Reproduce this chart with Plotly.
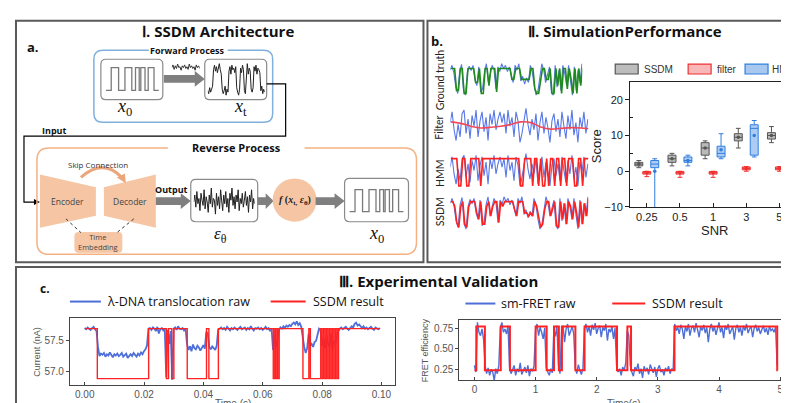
import plotly.graph_objects as go

W, H = 789, 403
def px(x): return x / W
def py(y): return 1 - y / H

# ---------------- data ----------------
snr_labels = ['0.25', '0.5', '1', '3', '5']
ssdm_lo = [1.0, 1.5, 3.5, 6.5, 8.0]
ssdm_q1 = [1.5, 2.5, 4.5, 8.5, 9.0]
ssdm_med = [2.0, 3.5, 6.5, 9.5, 10.0]
ssdm_q3 = [2.5, 4.5, 8.0, 10.5, 10.8]
ssdm_hi = [3.0, 5.0, 8.5, 12.0, 12.5]
ssdm_mean = [2.0, 3.5, 6.5, 9.5, 10.0]
filter_lo = [-1.5, -1.7, -1.7, 0.0, 0.0]
filter_q1 = [-0.8, -0.8, -0.8, 0.4, 0.4]
filter_med = [-0.4, -0.4, -0.4, 0.8, 0.8]
filter_q3 = [-0.1, -0.1, -0.1, 1.2, 1.2]
filter_hi = [0.0, 0.0, 0.0, 1.3, 1.3]
filter_mean = [-0.4, -0.4, -0.4, 0.8, 0.8]
hmm_lo = [-10.5, 1.5, 3.5, 4.0, 4.0]
hmm_q1 = [1.0, 2.5, 4.0, 4.5, 5.0]
hmm_med = [2.0, 3.0, 5.0, 12.0, 13.0]
hmm_q3 = [3.0, 4.0, 7.0, 13.0, 14.0]
hmm_hi = [3.5, 4.5, 10.5, 14.2, 15.2]
hmm_mean = [0.0, 3.0, 6.0, 10.0, 10.7]

# simulation traces (panel b)
sim_gt = [0.85,0.85,0.85,0.15,0.15,0.85,0.85,0.05,0.05,0.85,
          0.85,0.85,0.85,0.4,0.4,0.85,0.05,0.05,0.85,0.85,
          0.3,0.85,0.85,0.85,0.1,0.85,0.85,0.85,0.85,0.85,
          0.85,0.85,0.5,0.5,0.85,0.85,0.85,0.5,0.5,0.5,
          0.5,0.5,0.85,0.85,0.2,0.05,0.05,0.5,0.85,0.85,
          0.5,0.5,0.85,0.05,0.05,0.85,0.3,0.85,0.05,0.85,
          0.85,0.2,0.85,0.5,0.05,0.85,0.05,0.85,0.3,0.85]
sim_noisy_a = [0.80,0.95,0.70,0.25,0.05,0.75,0.98,0.15,0.00,0.70,
               0.92,0.78,0.95,0.50,0.30,0.90,0.10,0.20,0.75,1.00,
               0.40,0.70,0.95,0.80,0.20,0.90,0.75,1.00,0.85,0.95,
               0.75,0.90,0.60,0.40,0.95,0.80,1.00,0.45,0.60,0.35,
               0.55,0.40,0.95,0.75,0.30,0.00,0.15,0.60,1.00,0.80,
               0.40,0.65,0.90,0.10,0.00,0.95,0.25,0.80,0.15,0.95,
               0.70,0.30,0.95,0.45,0.00,0.90,0.15,0.80,0.40,1.00]
sim_noisy_b = [0.60,0.90,0.40,0.10,0.55,0.20,0.85,0.95,0.30,0.70,
               0.15,0.80,0.50,0.95,0.20,0.65,0.90,0.35,0.75,0.10,
               0.85,0.55,0.95,0.40,0.70,0.90,0.60,0.85,0.30,0.95,
               0.50,0.75,0.20,0.90,0.65,0.05,0.30,0.60,1.00,0.55,
               0.25,0.70,0.40,0.85,0.10,0.60,0.90,0.30,0.75,0.45,
               0.05,0.65,0.85,0.35,0.70,0.20,0.90,0.50,0.15,0.80,
               0.40,0.95,0.25,0.60,0.05,0.75,0.45,0.90,0.30,0.70]
filter_idx = [0, 5, 10, 15, 20, 25, 30, 35, 40, 45, 50, 55, 60, 65, 69]
filter_smooth = [0.62, 0.58, 0.50, 0.45, 0.47, 0.50, 0.55, 0.62, 0.60, 0.48, 0.42, 0.44, 0.46, 0.45, 0.43]
hmm_fit = [0.85,0.85,0.85,0.85,0.05,0.05,0.85,0.85,0.05,0.05,
           0.85,0.85,0.85,0.85,0.85,0.05,0.85,0.85,0.85,0.85,
           0.85,0.85,0.85,0.85,0.85,0.85,0.85,0.85,0.85,0.85,
           0.85,0.85,0.85,0.85,0.85,0.05,0.05,0.85,0.85,0.85,
           0.85,0.05,0.85,0.85,0.05,0.85,0.05,0.05,0.85,0.05,
           0.85,0.85,0.05,0.85,0.85,0.05,0.85,0.85,0.05,0.85,
           0.85,0.85,0.05,0.05,0.85,0.85,0.05,0.85,0.85,0.85]
ssdm_fit = [0.85,0.85,0.70,0.20,0.05,0.70,0.85,0.15,0.05,0.70,
            0.85,0.85,0.85,0.50,0.30,0.85,0.15,0.15,0.70,0.85,
            0.40,0.70,0.85,0.85,0.20,0.85,0.70,0.85,0.85,0.85,
            0.85,0.85,0.60,0.40,0.85,0.85,0.85,0.50,0.50,0.40,
            0.50,0.40,0.85,0.70,0.30,0.05,0.15,0.60,0.85,0.85,
            0.40,0.60,0.85,0.10,0.05,0.85,0.30,0.80,0.15,0.85,
            0.70,0.30,0.85,0.50,0.05,0.85,0.15,0.80,0.40,0.95]

# diagram signals (panel a)
clean_t = [0, 1.0, 2.4, 3.6, 4.9, 5.6, 6.3, 6.6, 7.4, 8.0, 9.1, 10]
clean_level = [0, 1, 0, 1, 0, 1, 0, 1, 0, 1, 0, 0]
noisy_xt = [0.15,0.05,0.25,0.10,0.20,0.30,0.85,1.00,0.80,0.95,
            0.75,0.90,1.05,0.85,0.70,0.20,0.05,0.15,0.30,0.00,
            0.20,0.10,0.80,0.95,0.70,1.00,0.85,0.90,0.75,0.95,
            0.25,0.10,0.00,0.20,0.90,0.75,1.00,0.85,0.15,0.05,
            0.85,1.05,0.70,0.90,0.80,0.20,0.10,0.25,0.95,0.80,
            1.00,0.70,0.90,0.85,0.75,0.15,0.30,0.05,0.20,0.10]
eps_noise = [0.50,0.70,0.35,0.80,0.45,0.60,0.25,0.75,0.55,0.40,
             0.85,0.30,0.65,0.50,0.20,0.70,0.45,0.90,0.35,0.60,
             0.55,0.15,0.75,0.40,0.65,0.30,0.85,0.50,0.25,0.70,
             0.45,0.80,0.35,0.60,0.20,0.75,0.55,0.90,0.40,0.65,
             0.30,0.70,0.50,0.85,0.25,0.60,0.45,0.75,0.35,0.55,
             0.80,0.40,0.65,0.20,0.70,0.50,0.85,0.30,0.60,0.45]
squiggle = [0.5,0.8,0.3,0.7,0.4,0.9,0.5,0.6,0.2,0.7,0.5,0.8,0.4,
            0.6,0.3,0.9,0.5,0.7,0.4,0.6,0.2,0.8,0.5,0.7,0.4]

# panel c: lambda-DNA translocation
dna_dt = 0.0005
dna_raw = [57.71,57.69,57.72,57.70,57.68,57.71,57.73,57.69,57.66,57.40,
           57.25,57.29,57.27,57.30,57.24,57.28,57.26,57.31,57.27,57.23,
           57.28,57.26,57.29,57.25,57.27,57.30,57.24,57.27,57.29,57.22,
           57.26,57.28,57.25,57.30,57.27,57.24,57.29,57.26,57.31,57.28,
           57.33,57.36,57.42,57.70,57.71,57.68,57.72,57.70,57.66,57.73,
           57.62,57.69,57.71,57.67,57.70,56.90,57.68,57.45,57.66,56.86,
           57.70,57.72,57.68,57.74,57.70,57.69,57.71,57.67,57.70,57.45,
           57.35,57.41,57.33,57.44,57.38,57.36,57.42,57.39,57.34,57.40,
           57.43,57.37,57.65,57.62,57.40,57.36,57.41,57.38,57.35,57.42,
           57.68,57.70,57.72,57.69,57.71,57.68,57.73,57.70,57.67,57.71,
           57.69,57.72,57.70,57.68,57.71,57.73,57.69,57.70,57.72,57.68,
           57.71,57.69,57.74,57.70,57.67,57.71,57.70,57.72,57.69,57.71,
           57.68,57.70,57.73,57.69,57.71,57.66,57.70,57.35,57.60,57.40,
           57.55,57.68,57.72,57.70,57.74,57.71,57.75,57.73,57.76,57.74,
           57.78,57.80,57.77,57.82,57.76,57.79,57.73,57.55,57.40,57.30,
           57.38,57.62,57.42,57.45,57.40,57.48,57.50,57.60,57.70,57.68,
           57.42,57.55,57.38,57.60,57.45,57.40,57.62,57.35,57.50,57.44,
           57.58,57.66,57.70,57.72,57.69,57.71,57.73,57.70,57.68,57.71,
           57.74,57.72,57.78,57.80,57.75,57.77,57.73,57.71,57.74,57.70,
           57.72,57.69,57.71,57.73,57.70,57.68,57.72,57.70,57.69,57.71]
dna_step_t = [0, 0.0042, 0.0215, 0.0275, 0.0282, 0.0293, 0.0300, 0.0345, 0.0410, 0.0418,
              0.0450, 0.0635, 0.0640, 0.0643, 0.0648, 0.0650, 0.0655, 0.0735, 0.0755, 0.0760,
              0.0795, 0.0800, 0.0805, 0.0810, 0.0815, 0.0820, 0.0825, 0.0830, 0.0835, 0.0840,
              0.0845, 0.0850, 0.0855, 0.0995]
dna_step_level = [57.70, 56.88, 57.70, 56.88, 57.70, 56.88, 57.70, 56.88, 57.70, 56.88,
                  57.70, 56.88, 57.70, 56.88, 57.70, 56.88, 57.70, 56.88, 57.70, 56.88,
                  57.70, 56.88, 57.70, 56.88, 57.70, 56.88, 57.70, 56.88, 57.70, 56.88,
                  57.70, 56.88, 57.70, 57.70]

# panel c: sm-FRET
fret_dt = 0.025
fret_raw = [0.30,0.22,
            0.82,0.70,0.66,0.74,0.62,
            0.30,0.20,0.27,0.18,0.25,0.22,0.12,0.26,0.20,0.30,
            0.76,0.82,0.70,0.74,0.68,0.78,
            0.28,0.20,0.24,0.30,0.18,0.26,0.22,0.33,0.19,0.25,0.28,0.21,0.30,0.17,0.26,0.23,0.29,
            0.72,0.80,0.66,0.76,0.70,0.62,0.75,
            0.28,0.22,0.18,0.26,0.21,
            0.74,0.65,0.78,
            0.30,0.20,
            0.70,0.78,0.58,0.74,0.80,0.66,0.72,0.77,0.68,
            0.27,0.20,0.31,0.24,0.19,0.26,
            0.74,0.80,0.70,0.77,0.66,0.79,0.73,0.81,0.68,0.75,0.78,0.64,0.76,0.72,0.80,0.60,0.74,0.70,0.77,0.62,0.75,
            0.30,0.22,0.26,0.18,0.28,0.24,0.33,
            0.72,0.66,
            0.30,0.22,0.17,0.28,0.24,0.32,0.20,0.26,0.15,0.29,0.23,0.27,0.19,0.31,0.25,0.21,0.28,0.16,0.26,0.30,
            0.22,0.25,0.18,0.27,0.23,0.29,0.20,0.26,0.24,
            0.80,0.72,0.76,0.68,0.79,0.74,0.62,0.77,0.71,0.80,
            0.66,0.75,0.78,0.70,0.81,0.73,0.64,0.77,0.72,0.79,
            0.69,0.76,0.58,0.74,0.80,0.71,0.77,0.67,0.75,0.82,
            0.70,0.76,0.63,0.78,0.73,0.80,0.68,0.74,0.77,0.61,
            0.75,0.79,0.70,0.76,0.66,0.78,0.72,0.80,0.69,0.74,
            0.77,0.64,0.75,0.79,0.71,0.76,0.68,0.73,0.78,0.70,
            0.75,0.67,0.77,0.72,0.74,0.70,0.76,
            0.30]
fret_step_t = [0, 0.03, 0.17, 0.43, 0.58, 1.0, 1.18, 1.3, 1.38, 1.43, 1.65, 1.8, 2.33, 2.5, 2.56, 3.27, 4.95, 4.96]
fret_step_level = [0.24, 0.77, 0.24, 0.77, 0.24, 0.77, 0.24, 0.77, 0.24, 0.77, 0.24, 0.77, 0.24, 0.77, 0.24, 0.77, 0.24, 0.24]

# ---------------- styling ----------------
PEACH = '#f6c6a4'
ARROW = '#7f7f7f'
BORDER = '#5a5a5a'
SANS = 'Open Sans'
BLUE_RAW = '#4f6fd8'
RED = '#ff2222'

fig = go.Figure()
layout = {}
shapes = []
ann = []

def text(x, y, s, size=10, color='#111', bold=False, family=SANS, angle=0,
         bg=None, xanchor='center', yanchor='middle', pad=0):
    if bold:
        s = f'<b>{s}</b>'
    d = dict(x=px(x), y=py(y), xref='paper', yref='paper', text=s, showarrow=False,
             font=dict(size=size, color=color, family=family), textangle=angle,
             xanchor=xanchor, yanchor=yanchor)
    if bg:
        d['bgcolor'] = bg
        d['borderpad'] = pad
    ann.append(d)

def rrect(x0, y0, x1, y1, r, line='#888', width=1.2, fill='rgba(0,0,0,0)'):
    rx, ry = r / W, r / H
    X0, X1, Y0, Y1 = px(x0), px(x1), py(y0), py(y1)
    path = (f"M {X0+rx},{Y0} L {X1-rx},{Y0} Q {X1},{Y0} {X1},{Y0-ry} "
            f"L {X1},{Y1+ry} Q {X1},{Y1} {X1-rx},{Y1} L {X0+rx},{Y1} "
            f"Q {X0},{Y1} {X0},{Y1+ry} L {X0},{Y0-ry} Q {X0},{Y0} {X0+rx},{Y0} Z")
    shapes.append(dict(type='path', path=path, xref='paper', yref='paper',
                       line=dict(color=line, width=width), fillcolor=fill))

def poly(points, fill, line_color=None, width=0, closed=True, dash='solid'):
    p = 'M ' + ' L '.join(f'{px(x)},{py(y)}' for x, y in points)
    if closed:
        p += ' Z'
    shapes.append(dict(type='path', path=p, xref='paper', yref='paper',
                       fillcolor=fill if closed else 'rgba(0,0,0,0)',
                       line=dict(color=line_color or 'rgba(0,0,0,0)', width=width, dash=dash)))

def fat_arrow(x0, x1, y, shaft=8, head=16, hl=10, color=ARROW):
    poly([(x0, y - shaft/2), (x1 - hl, y - shaft/2), (x1 - hl, y - head/2), (x1, y),
          (x1 - hl, y + head/2), (x1 - hl, y + shaft/2), (x0, y + shaft/2)], color)

def rect(x0, y0, x1, y1, color=BORDER, width=2, fill='rgba(0,0,0,0)'):
    shapes.append(dict(type='rect', xref='paper', yref='paper', x0=px(x0), x1=px(x1),
                       y0=py(y1), y1=py(y0), line=dict(color=color, width=width), fillcolor=fill))

def line(x0, y0, x1, y1, color='#000', width=1.2, dash='solid'):
    shapes.append(dict(type='line', xref='paper', yref='paper', x0=px(x0), y0=py(y0),
                       x1=px(x1), y1=py(y1), line=dict(color=color, width=width, dash=dash)))

def hidden_axes(n, x0, x1, y0, y1, xr, yr):
    layout[f'xaxis{n}'] = dict(domain=[px(x0), px(x1)], range=xr, visible=False,
                               anchor=f'y{n}', fixedrange=True)
    layout[f'yaxis{n}'] = dict(domain=[py(y1), py(y0)], range=yr, visible=False,
                               anchor=f'x{n}', fixedrange=True)

# ---------------- panel frames & titles ----------------
rect(8, 13, 416, 258)
rect(420, 13, 787, 258)
rect(8, 263, 800, 420)
text(210, 23, 'Ⅰ. SSDM Architecture', size=15, bold=True)
text(618, 23, 'Ⅱ. SimulationPerformance', size=15, bold=True)
text(431, 277, 'Ⅲ. Experimental Validation', size=15, bold=True)
text(25, 40, 'a.', size=13, bold=True)
text(430, 33, 'b.', size=13, bold=True)
text(37, 285, 'c.', size=12, bold=True)

# ---------------- panel a diagram ----------------
rrect(86, 43, 265, 116, 9, line='#7fb0de', width=1.5)
line(141, 43, 220, 43, color='white', width=4)
text(180, 43, 'Forward Process', size=9, bold=True)
rrect(93, 52, 155, 93, 5, line='#8a8a8a')
rrect(197, 52, 259, 93, 5, line='#8a8a8a')
fat_arrow(156, 197, 72)
text(117, 101, '<i>x</i><sub>0</sub>', size=18, family='Liberation Serif')
text(233, 101, '<i>x</i><sub>t</sub>', size=18, family='Liberation Serif')

# connector with arrow
poly([(259, 77), (278, 77), (278, 130), (16, 130), (16, 197), (29, 197)], None,
     line_color='#000', width=1.2, closed=False)
poly([(32, 197), (26, 194), (26, 200)], '#000')
text(47, 124, 'Input', size=9, bold=True)

rrect(29, 142, 409, 250, 12, line='#f4b183', width=1.5)
line(160, 142, 297, 142, color='white', width=4)
text(229, 142, 'Reverse Process', size=11, bold=True)

poly([(32, 169), (88, 182), (88, 211), (32, 223)], PEACH)
poly([(96, 182), (148, 169), (148, 223), (96, 211)], PEACH)
text(60, 196, 'Encoder', size=8.5, color='#444')
text(122, 196, 'Decoder', size=8.5, color='#444')
# skip connection arc
shapes.append(dict(type='path', xref='paper', yref='paper',
                   path=f'M {px(73)},{py(172)} Q {px(95)},{py(152)} {px(114)},{py(172)}',
                   line=dict(color='#eba67c', width=3)))
poly([(118, 178), (109, 172), (117, 168)], '#eba67c')
text(90, 159, 'Skip Connection', size=8, color='#333')
rrect(67, 228, 114, 248, 3, line=PEACH, width=1, fill=PEACH)
text(90.5, 238, 'Time<br>Embedding', size=7.5, color='#444')
line(58, 214, 73, 228, dash='dot', width=1, color='#333')
line(126, 214, 109, 228, dash='dot', width=1, color='#333')

text(164, 184, 'Output', size=9, bold=True)
fat_arrow(148, 183, 196)
rrect(183, 174, 250, 217, 5, line='#8a8a8a')
text(213, 230, '<i>ε</i><sub>θ</sub>', size=17, family='Liberation Serif')
fat_arrow(250, 266, 196, hl=8)
shapes.append(dict(type='circle', xref='paper', yref='paper', x0=px(265), x1=px(309),
                   y0=py(217), y1=py(173), fillcolor=PEACH, line=dict(width=0)))
text(287, 195, '<b><i>f</i> (<i>x</i><sub>t,</sub> <i>ε</i><sub>θ</sub>)</b>', size=10,
     family='Liberation Serif', color='#222')
fat_arrow(308, 337, 196)
rrect(337, 173, 401, 217, 5, line='#8a8a8a')
text(369, 230, '<i>x</i><sub>0</sub>', size=18, family='Liberation Serif')

# diagram signals
hidden_axes(8, 97, 152, 57, 87, [-0.2, 10.2], [-0.15, 1.15])
fig.add_trace(go.Scatter(x=clean_t, y=clean_level, mode='lines', line=dict(color='#7a7a7a', width=1.3, shape='hv'),
                         xaxis='x8', yaxis='y8', hoverinfo='skip'))
hidden_axes(9, 164, 192, 56, 65, [0, len(squiggle) - 1], [0, 1])
fig.add_trace(go.Scatter(y=squiggle, mode='lines', line=dict(color='#333', width=1),
                         xaxis='x9', yaxis='y9', hoverinfo='skip'))
hidden_axes(10, 200, 257, 55, 90, [0, len(noisy_xt) - 1], [-0.05, 1.1])
fig.add_trace(go.Scatter(y=noisy_xt, mode='lines', line=dict(color='#222', width=1),
                         xaxis='x10', yaxis='y10', hoverinfo='skip'))
hidden_axes(11, 186, 247, 181, 211, [0, len(eps_noise) - 1], [0.1, 0.95])
fig.add_trace(go.Scatter(y=eps_noise, mode='lines', line=dict(color='#222', width=1),
                         xaxis='x11', yaxis='y11', hoverinfo='skip'))
hidden_axes(12, 341, 397, 181, 210, [-0.2, 10.2], [-0.15, 1.15])
fig.add_trace(go.Scatter(x=clean_t, y=clean_level, mode='lines', line=dict(color='#7a7a7a', width=1.3, shape='hv'),
                         xaxis='x12', yaxis='y12', hoverinfo='skip'))

# ---------------- panel b: traces ----------------
SIMBLUE = 'rgba(70,105,230,0.9)'
rows = [
    (4, 55, 90, sim_noisy_a, 'Ground truth', 73),
    (5, 100, 140, sim_noisy_b, 'Filter', 121),
    (6, 146, 184, sim_noisy_b, 'HMM', 167),
    (7, 190, 226, sim_noisy_a, 'SSDM', 207),
]
for n, y0, y1, noisy, label, ly in rows:
    x_end = 575 if n == 4 else 581
    hidden_axes(n, 443, x_end, y0, y1, [0, len(noisy) - 1], [-0.05, 1.05])
    fig.add_trace(go.Scatter(y=noisy, mode='lines', line=dict(color=SIMBLUE, width=1.1),
                             xaxis=f'x{n}', yaxis=f'y{n}', hoverinfo='skip'))
    text(432, ly, label, size=10.5, angle=-90, color='#222', family='Lato')
fig.add_trace(go.Scatter(y=sim_gt, mode='lines', line=dict(color='#1f8a1f', width=1.6),
                         xaxis='x4', yaxis='y4', hoverinfo='skip'))
fig.add_trace(go.Scatter(x=filter_idx, y=filter_smooth, mode='lines',
                         line=dict(color='#f04a5a', width=1.6, shape='spline'),
                         xaxis='x5', yaxis='y5', hoverinfo='skip'))
fig.add_trace(go.Scatter(y=hmm_fit, mode='lines', line=dict(color='#ff2020', width=1.6),
                         xaxis='x6', yaxis='y6', hoverinfo='skip'))
fig.add_trace(go.Scatter(y=ssdm_fit, mode='lines', line=dict(color='#ff2020', width=1.6),
                         xaxis='x7', yaxis='y7', hoverinfo='skip'))

# ---------------- panel b: box plot ----------------
series = [
    ('SSDM', ssdm_lo, ssdm_q1, ssdm_med, ssdm_q3, ssdm_hi, ssdm_mean, '#555555', 'rgba(140,140,140,0.6)'),
    ('filter', filter_lo, filter_q1, filter_med, filter_q3, filter_hi, filter_mean, '#ee3030', 'rgba(245,110,110,0.75)'),
    ('HMM', hmm_lo, hmm_q1, hmm_med, hmm_q3, hmm_hi, hmm_mean, '#2f7ee0', 'rgba(120,170,235,0.6)'),
]
for name, lo, q1, med, q3, hi, mean, lc, fc in series:
    fig.add_trace(go.Box(x=snr_labels, lowerfence=lo, q1=q1, median=med, q3=q3, upperfence=hi,
                         name=name, line=dict(color=lc, width=1), fillcolor=fc,
                         whiskerwidth=0.6, offsetgroup=name, xaxis='x', yaxis='y', hoverinfo='skip'))
for name, lo, q1, med, q3, hi, mean, lc, fc in series:
    fig.add_trace(go.Scatter(x=snr_labels, y=mean, mode='markers', offsetgroup=name,
                             marker=dict(color=lc, size=3.5), xaxis='x', yaxis='y', hoverinfo='skip'))

layout['xaxis'] = dict(domain=[px(623), 1.0], anchor='y', type='category', range=[-0.5, 4.5],
                       showline=True, linecolor='#222', linewidth=1, mirror=True,
                       ticks='inside', ticklen=4, tickcolor='#222',
                       tickfont=dict(size=11, color='#222', family='Liberation Sans'), showgrid=False)
layout['yaxis'] = dict(domain=[py(202), py(75)], anchor='x', range=[-10, 25], tickvals=[-10, 0, 10, 20],
                       showline=True, linecolor='#222', linewidth=1, mirror=True,
                       ticks='outside', ticklen=4, tickcolor='#222', zeroline=False,
                       minor=dict(tickvals=[-5, 5, 15], ticks='inside', ticklen=3, tickcolor='#222'),
                       tickfont=dict(size=11, color='#222', family='Liberation Sans'), showgrid=False)
text(590, 140, 'Score', size=13, angle=-90, color='#222', family='Liberation Sans')
text(707, 226, 'SNR', size=13, color='#222', family='Liberation Sans')

# manual legend
for (x0, x1, tx, label, lc, fc) in [(608, 631, 635, 'SSDM', '#555555', '#bdbdbd'),
                                     (681, 704, 708, 'filter', '#ee3030', '#f8b8b8'),
                                     (738, 761, 763, 'HMM', '#2f7ee0', '#a9c8f0')]:
    rect(x0, 57, x1, 67, color=lc, width=1.2, fill=fc)
    text(tx, 62, label, size=10, color='#333', xanchor='left', family='Liberation Sans')

# ---------------- panel c: DNA ----------------
fig.add_trace(go.Scatter(y=dna_raw, x0=0, dx=dna_dt, mode='lines', line=dict(color=BLUE_RAW, width=1.8),
                         xaxis='x2', yaxis='y2', hoverinfo='skip'))
fig.add_trace(go.Scatter(x=dna_step_t, y=dna_step_level, mode='lines',
                         line=dict(color=RED, width=1.4, shape='hv'),
                         xaxis='x2', yaxis='y2', hoverinfo='skip'))
ax_common = dict(showline=True, linecolor='#444', linewidth=1, mirror=True,
                 ticklen=3, tickcolor='#444', showgrid=False, zeroline=False,
                 tickfont=dict(size=10, color='#555', family='Liberation Sans'))
layout['xaxis2'] = dict(domain=[px(62), px(387)], anchor='y2', range=[-0.0050, 0.1044], ticks='inside',
                        tickvals=[0, 0.02, 0.04, 0.06, 0.08, 0.10], tickformat='.2f', **ax_common)
layout['yaxis2'] = dict(domain=[py(383), py(315)], anchor='x2', range=[56.77, 57.87], ticks='outside',
                        tickvals=[57.0, 57.5], tickformat='.1f', **ax_common)
text(225, 401, 'Time (s)', size=10, color='#555', family='Liberation Sans')
text(29, 349, 'Current (nA)', size=9, color='#555', angle=-90, family='Liberation Sans')
line(62, 298, 93, 298, color=BLUE_RAW, width=2)
text(97, 298, 'λ-DNA translocation raw', size=12.5, color='#111', xanchor='left')
line(263, 298, 298, 298, color=RED, width=2)
text(303, 298, 'SSDM result', size=12.5, color='#111', xanchor='left')

# ---------------- panel c: FRET ----------------
fig.add_trace(go.Scatter(y=fret_raw, x0=0, dx=fret_dt, mode='lines', line=dict(color=BLUE_RAW, width=1.4),
                         xaxis='x3', yaxis='y3', hoverinfo='skip'))
fig.add_trace(go.Scatter(x=fret_step_t, y=fret_step_level, mode='lines',
                         line=dict(color=RED, width=2, shape='hv'),
                         xaxis='x3', yaxis='y3', hoverinfo='skip'))
layout['xaxis3'] = dict(domain=[px(452), px(783)], anchor='y3', range=[-0.245, 5.16], ticks='inside',
                        tickvals=[0, 1, 2, 3, 4, 5], **ax_common)
layout['yaxis3'] = dict(domain=[py(378), py(317)], anchor='x3', range=[0.119, 0.845], ticks='outside',
                        tickvals=[0.25, 0.5, 0.75], tickformat='.2f', **ax_common)
text(617, 401, 'Time(s)', size=10, color='#555', family='Liberation Sans')
text(417, 347, 'FRET efficiency', size=9, color='#555', angle=-90, family='Liberation Sans')
line(458, 300, 488, 300, color=BLUE_RAW, width=2)
text(492, 300, 'sm-FRET raw', size=12.5, color='#111', xanchor='left')
line(605, 300, 638, 300, color=RED, width=2)
text(643, 300, 'SSDM result', size=12.5, color='#111', xanchor='left')

fig.update_layout(
    width=W, height=H, margin=dict(l=0, r=0, t=0, b=0),
    paper_bgcolor='white', plot_bgcolor='rgba(0,0,0,0)',
    showlegend=False, boxmode='group', boxgap=0.28, boxgroupgap=0.0,
    scattermode='group', scattergap=0.28,
    shapes=shapes, annotations=ann, **layout)
fig.write_html('out.html')
